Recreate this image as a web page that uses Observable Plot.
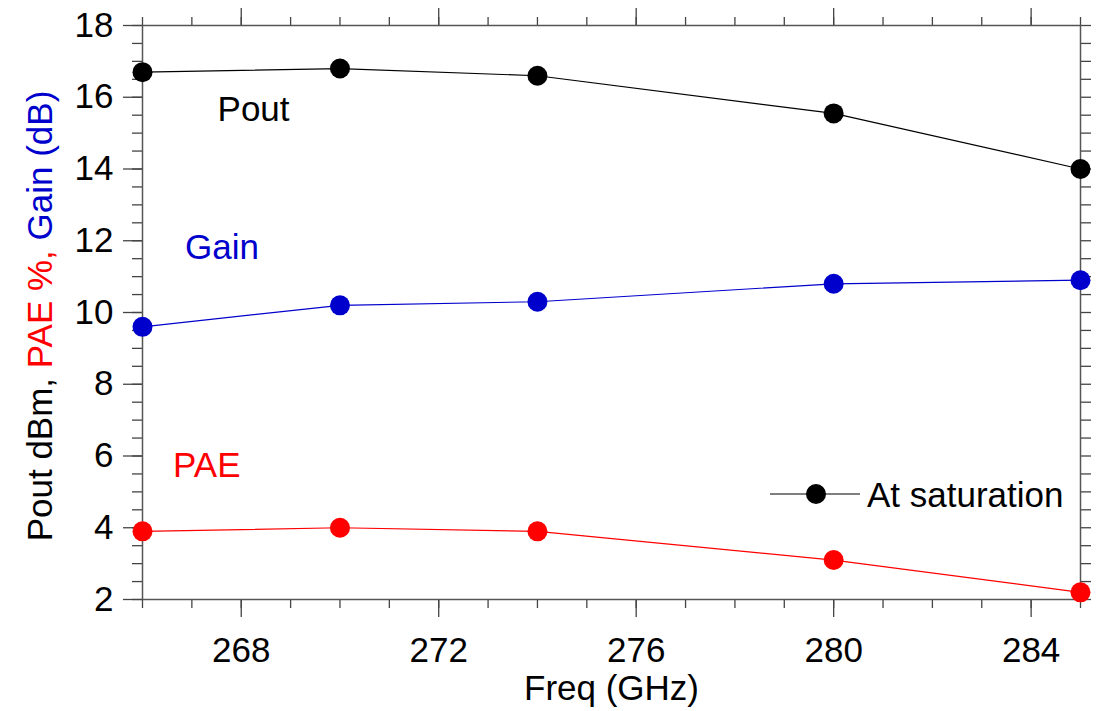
<!DOCTYPE html>
<html>
<head>
<meta charset="utf-8">
<script src="https://cdn.jsdelivr.net/npm/d3@7"></script>
<script src="https://cdn.jsdelivr.net/npm/@observablehq/plot@0.6"></script>
<style>
  html, body { margin: 0; padding: 0; background: #fff; }
  #chart { width: 1097px; height: 711px; }
</style>
</head>
<body>
<div id="chart"></div>
<script>
// ---- data ----
const freqs = [266, 270, 274, 280, 285];
const pout  = [16.7, 16.8, 16.6, 15.55, 14.0];
const gain  = [9.6, 10.2, 10.3, 10.8, 10.9];
const pae   = [3.9, 4.0, 3.9, 3.1, 2.2];

const seriesNames  = ["Pout", "Gain", "PAE"];
const seriesColors = ["#000000", "#0000cc", "#ff0000"];
const labelX = [267.52, 266.86, 266.62];
const labelY = [15.65, 11.79, 5.74];

const xMajorTicks = [268, 272, 276, 280, 284];
const yMajorTicks = [2, 4, 6, 8, 10, 12, 14, 16, 18];
const xMinorTicks = d3.range(266, 286, 1);
const yMinorTicks = d3.range(2, 18.01, 0.5);

const xTitle = "Freq (GHz)";
const yTitleParts = [["Pout dBm, ", "#000000"], ["PAE %, ", "#ff0000"], ["Gain (dB)", "#0000cc"]];
const legendText = "At saturation";

// ---- build table ----
const seriesValues = [pout, gain, pae];
const rows = [];
seriesNames.forEach((s, i) => freqs.forEach((f, j) => rows.push({series: s, freq: f, value: seriesValues[i][j], color: seriesColors[i]})));
const labels = seriesNames.map((s, i) => ({text: s, x: labelX[i], y: labelY[i], color: seriesColors[i]}));

const FONT = "Liberation Sans, Arial, Helvetica, sans-serif";
const FS = 35;
const AX = "#444";
const blank = () => "";

const yTitleMark = (index, scales, values, dim) => {
  const g = d3.create("svg:g");
  const cy = (dim.marginTop + dim.height - dim.marginBottom) / 2 + 4;
  const t = g.append("text")
    .attr("transform", `translate(52,${cy}) rotate(-90)`)
    .attr("text-anchor", "middle")
    .attr("font-family", FONT)
    .attr("font-size", FS);
  yTitleParts.forEach(([s, c]) => t.append("tspan").attr("fill", c).style("white-space", "pre").text(s));
  return g.node();
};

const legendMark = (index, scales, values, dim) => {
  const g = d3.create("svg:g");
  const right = dim.width - dim.marginRight;
  const y = dim.height - dim.marginBottom - 105;
  g.append("line").attr("x1", right - 310).attr("x2", right - 220).attr("y1", y).attr("y2", y)
    .attr("stroke", "#000").attr("stroke-width", 1.2);
  g.append("circle").attr("cx", right - 264).attr("cy", y).attr("r", 10).attr("fill", "#000");
  g.append("text").attr("x", right - 213).attr("y", y).attr("dy", "0.36em")
    .attr("text-anchor", "start")
    .attr("font-family", FONT).attr("font-size", FS).attr("fill", "#000").text(legendText);
  return g.node();
};

const chart = Plot.plot({
  width: 1097,
  height: 711,
  marginLeft: 142,
  marginRight: 17,
  marginTop: 25,
  marginBottom: 112,
  style: {fontFamily: FONT, background: "#fff", color: "#000"},
  x: {domain: [266, 285]},
  y: {domain: [2, 18]},
  marks: [
    // bottom axis
    Plot.axisX({ticks: xMinorTicks, tickSize: 9, tickFormat: blank, label: null, stroke: AX, strokeWidth: 1.3}),
    Plot.axisX({ticks: xMajorTicks, tickSize: 18, tickPadding: 20, fontSize: FS, label: null, stroke: AX, strokeWidth: 1.3, fill: "#000"}),
    // top axis
    Plot.axisX({anchor: "top", ticks: xMinorTicks, tickSize: 9, tickFormat: blank, label: null, stroke: AX, strokeWidth: 1.3}),
    Plot.axisX({anchor: "top", ticks: xMajorTicks, tickSize: 18, tickFormat: blank, label: null, stroke: AX, strokeWidth: 1.3}),
    // left axis
    Plot.axisY({ticks: yMinorTicks, tickSize: 10, tickFormat: blank, label: null, stroke: AX, strokeWidth: 1.3}),
    Plot.axisY({ticks: yMajorTicks, tickSize: 19, tickPadding: 10, fontSize: FS, label: null, stroke: AX, strokeWidth: 1.3, fill: "#000"}),
    // right axis
    Plot.axisY({anchor: "right", ticks: yMinorTicks, tickSize: 10, tickFormat: blank, label: null, stroke: AX, strokeWidth: 1.3}),
    Plot.frame({stroke: "#555", strokeWidth: 1.5}),
    // series
    Plot.line(rows, {x: "freq", y: "value", z: "series", stroke: "color", strokeWidth: 1.2}),
    Plot.dot(rows, {x: "freq", y: "value", fill: "color", r: 10}),
    // labels
    Plot.text(labels, {x: "x", y: "y", text: "text", fill: "color", fontSize: FS, textAnchor: "start", lineAnchor: "middle"}),
    // x title
    Plot.text([xTitle], {frameAnchor: "bottom", text: d => d, dy: 89, lineAnchor: "middle", fontSize: FS, fill: "#000"}),
    yTitleMark,
    legendMark
  ]
});
document.getElementById("chart").appendChild(chart);
</script>
</body>
</html>
